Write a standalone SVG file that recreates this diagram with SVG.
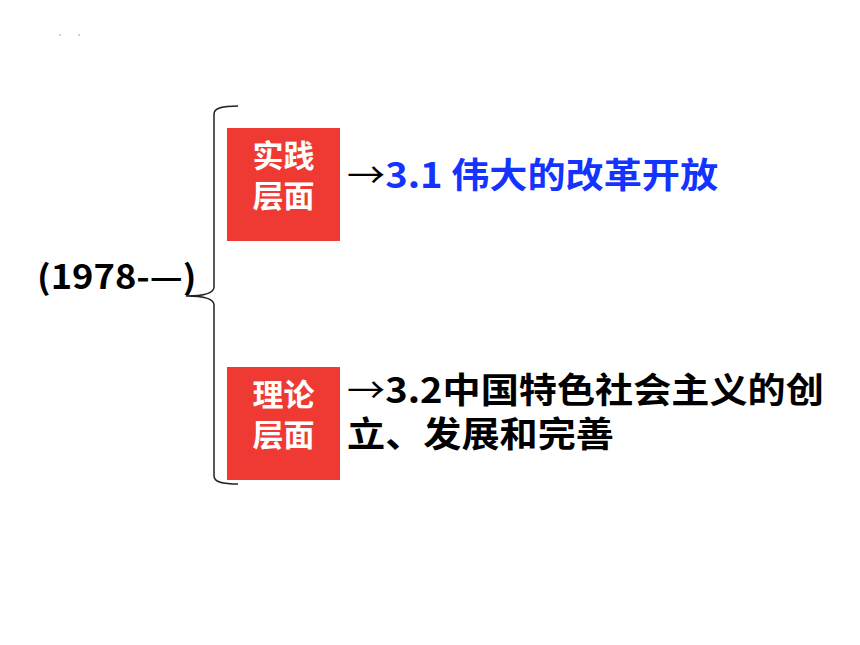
<svg xmlns="http://www.w3.org/2000/svg" width="860" height="645" viewBox="0 0 860 645">
<style>
.t{font-family:"Noto Sans CJK SC","Noto Sans",sans-serif;font-weight:bold}
.box{fill:#ee3a33}
.bt{fill:#ffffff;font-size:31px}
.blue{fill:#1433ff}
.blk{fill:#000000}
.arr{font-weight:normal}
.brace{fill:none;stroke:#222222;stroke-width:1.5}
</style>
<rect width="860" height="645" fill="#ffffff"/>
<circle cx="60" cy="35" r="0.8" fill="#999"/>
<circle cx="79" cy="35" r="0.8" fill="#999"/>
<g id="era">
<text class="t blk" font-size="33" transform="translate(37,289) scale(1.1,1)">(1978-—)</text>
</g>
<g id="connectors">
<path class="brace" d="M238,106 C222,106 214,108 214,114 L214,287 C214,293 206,296 186,296 C206,296 214,299 214,305 L214,476 C214,482 222,484 238,484"/>
</g>
<g id="practice">
<rect class="box" x="227" y="128" width="113" height="113"/>
<text class="t bt" x="283.5" y="167" text-anchor="middle">实践</text>
<text class="t bt" x="283.5" y="207" text-anchor="middle">层面</text>
</g>
<g id="practice-label">
<text class="t" font-size="35" transform="translate(347,188) scale(1.09,1)"><tspan class="blk arr">→</tspan><tspan class="blue">3.1 伟大的改革开放</tspan></text>
</g>
<g id="theory">
<rect class="box" x="227" y="367" width="113" height="113"/>
<text class="t bt" x="283.5" y="406" text-anchor="middle">理论</text>
<text class="t bt" x="283.5" y="446" text-anchor="middle">层面</text>
</g>
<g id="theory-label">
<text class="t blk" font-size="35" transform="translate(347,403) scale(1.09,1)"><tspan x="0" y="0"><tspan class="arr">→</tspan>3.2中国特色社会主义的创</tspan><tspan x="0" y="44">立、发展和完善</tspan></text>
</g>
</svg>
